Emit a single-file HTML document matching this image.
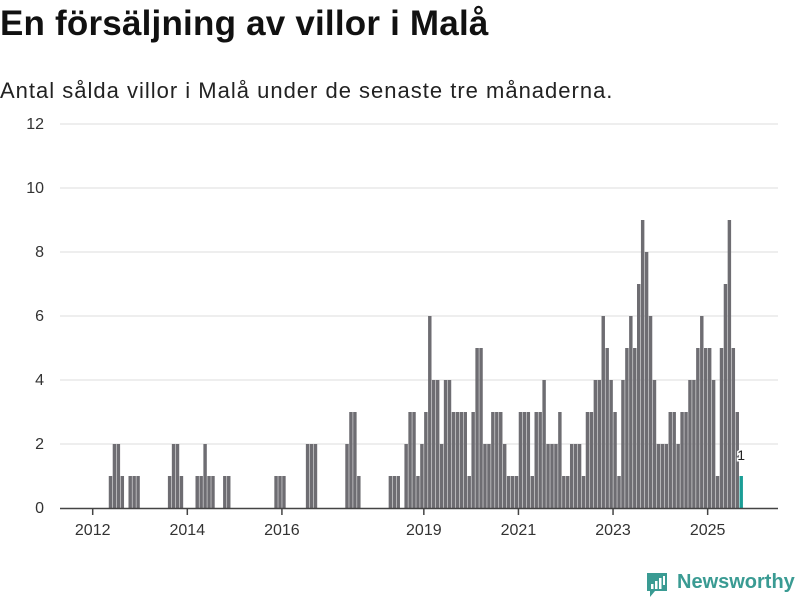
<!DOCTYPE html>
<html><head><meta charset="utf-8">
<style>
body{margin:0;background:#fff;font-family:"Liberation Sans",sans-serif;}
#wrap{position:relative;width:800px;height:600px;overflow:hidden;}
h1{position:absolute;left:0;top:4px;margin:0;font-size:35px;font-weight:bold;color:#111;letter-spacing:0.2px;}
.sub{position:absolute;left:0;top:78px;margin:0;font-size:22px;color:#222;letter-spacing:1px;}
svg{position:absolute;left:0;top:0;}
</style></head><body>
<div id="wrap">
<h1>En försäljning av villor i Malå</h1>
<p class="sub">Antal sålda villor i Malå under de senaste tre månaderna.</p>
<svg id="chart" width="800" height="600"></svg>
<div style="position:absolute;left:645px;top:571px;width:155px;height:28px;">
<svg width="26" height="28" style="position:absolute;left:0;top:0">
<path d="M2 2 H22 V20 H10 L5 26 V20 H2 Z" fill="#3a9b93"/>
<rect x="6" y="13" width="2.5" height="5" fill="#fff"/><rect x="10" y="10" width="2.5" height="8" fill="#fff"/><rect x="14" y="7" width="2.5" height="11" fill="#fff"/><rect x="18" y="5" width="2" height="9" fill="#fff"/>
</svg>
<span style="position:absolute;left:32px;top:0px;font-size:20px;font-weight:bold;color:#3a9b93;">Newsworthy</span>
</div>
</div>
<script>
const values = [0,0,0,0,1,2,2,1,0,1,1,1,
0,0,0,0,0,0,0,1,2,2,1,0,
0,0,1,1,2,1,1,0,0,1,1,0,
0,0,0,0,0,0,0,0,0,0,1,1,
1,0,0,0,0,0,2,2,2,0,0,0,
0,0,0,0,2,3,3,1,0,0,0,0,
0,0,0,1,1,1,0,2,3,3,1,2,
3,6,4,4,2,4,4,3,3,3,3,1,
3,5,5,2,2,3,3,3,2,1,1,1,
3,3,3,1,3,3,4,2,2,2,3,1,
1,2,2,2,1,3,3,4,4,6,5,4,
3,1,4,5,6,5,7,9,8,6,4,2,
2,2,3,3,2,3,3,4,4,5,6,5,
5,4,1,5,7,9,5,3,1];
const yTicks = [0,2,4,6,8,10,12];
const xTickLabels = ["2012","2014","2016","2019","2021","2023","2025"];
const xTickMonths = [0,24,48,84,108,132,156];

const svg = document.getElementById('chart');
const NS = 'http://www.w3.org/2000/svg';
const X0 = 92.7, W = 3.942, Y0 = 508, YU = 32;
function xs(i){ return X0 + i*W; }
function ys(v){ return Y0 - v*YU; }
function mk(tag, attrs){ const e=document.createElementNS(NS,tag); for(const k in attrs) e.setAttribute(k, attrs[k]); svg.appendChild(e); return e; }

yTicks.forEach(t=>{
  if(t>0){
    const g = mk('line',{x1:60,x2:778,y1:ys(t),y2:ys(t),stroke:'#dedede','stroke-width':1});
    
    
  }
  const tx = mk('text',{x:44,y:ys(t)+5,'text-anchor':'end','font-size':16,fill:'#333','font-family':'Liberation Sans, sans-serif'});
  tx.textContent = t;
  
  
});

values.forEach((v,i)=>{
  if(v<=0) return;
  const last = i===values.length-1;
  const r = mk('rect',{x:xs(i)+0.3,y:ys(v),width:W-0.5,height:v*YU,fill:last?'#1a9e96':'#6e6d72'});
  
  
  if(last){
    const lb = mk('text',{x:xs(i)+W/2,y:ys(v)-16,'text-anchor':'middle','font-size':14,fill:'#222',stroke:'#fff','stroke-width':3,'paint-order':'stroke','font-family':'Liberation Sans, sans-serif'});
    lb.textContent = v;
    
    
  }
});

const ax = mk('line',{x1:60,x2:778,y1:Y0+0.5,y2:Y0+0.5,stroke:'#444','stroke-width':1.5});



xTickMonths.forEach((m,k)=>{
  const t = mk('line',{x1:xs(m),x2:xs(m),y1:Y0,y2:Y0+7,stroke:'#444','stroke-width':1.5});
  
  
  const tx = mk('text',{x:xs(m),y:Y0+27,'text-anchor':'middle','font-size':16,fill:'#333','font-family':'Liberation Sans, sans-serif'});
  tx.textContent = xTickLabels[k];
  
  
});
</script>
</body></html>
